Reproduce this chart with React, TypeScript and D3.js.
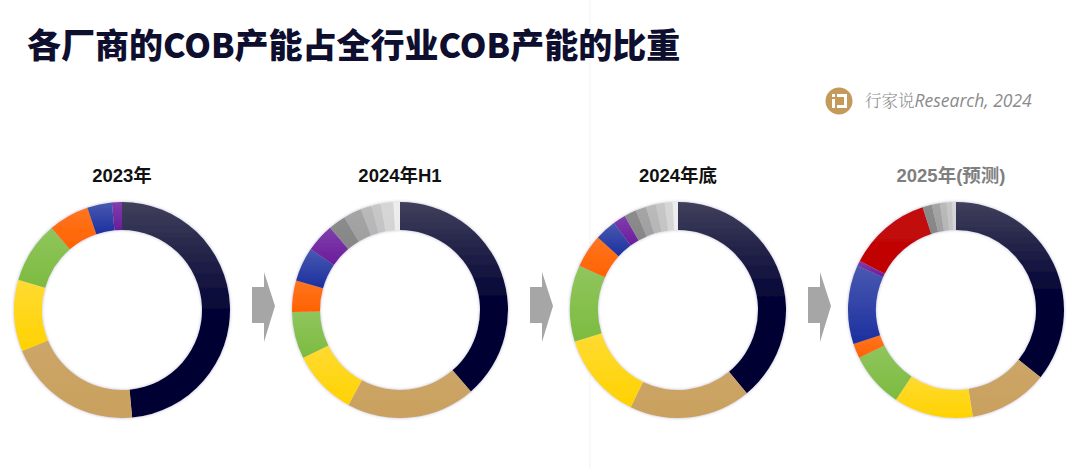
import React from "react";
import * as d3 from "d3";

// ---- data ----
const periods = ["2023年", "2024年H1", "2024年底", "2025年(预测)"];
const vendors = ["厂商1", "厂商2", "厂商3", "厂商4", "厂商5", "厂商6", "厂商7", "厂商8", "其他a", "其他b", "其他c", "其他d", "其他e", "其他f"];
const share2023 = [48.5, 20.3, 10.7, 9.2, 6.1, 3.7, 1.5, 0, 0, 0, 0, 0, 0, 0];
const share2024H1 = [38.6, 19.3, 9.8, 7.0, 4.7, 5.1, 4.3, 0, 2.6, 2.7, 1.6, 1.4, 1.9, 1.0];
const share2024End = [39.0, 18.2, 13.1, 11.4, 5.0, 3.2, 1.9, 0, 1.8, 1.6, 1.5, 1.3, 1.2, 0.8];
const share2025F = [35.7, 11.8, 11.9, 8.3, 2.2, 11.8, 0.8, 12.5, 1.4, 1.2, 1.0, 0.8, 0.6, 0];
const vendorColors = ["#000033", "#c9a05e", "#ffd200", "#7cbb40", "#ff6200", "#1b2f9e", "#6a1c9c", "#c00000", "#868686", "#a0a0a0", "#b6b6b6", "#c4c4c4", "#d4d4d4", "#ececec"];
const vendorTopLight = [0, 0.06, 0.2, 0.15, 0.12, 0.2, 0.15, 0.05, 0.05, 0.05, 0.05, 0.05, 0.05, 0.05];
const seriesList = [share2023, share2024H1, share2024End, share2025F];
const labelColors = ["#111111", "#111111", "#111111", "#7f7f7f"];

const W = 1080;
const H = 469;

export default function App() {
  const x = d3.scalePoint<string>().domain(periods).range([122, 956]);
  const cy = 310;
  const outerR = 108;
  const innerR = 80;
  const pie = d3
    .pie<number>()
    .sort(null)
    .value((d) => d)
    .startAngle(0)
    .endAngle(2 * Math.PI);
  const arc = d3.arc<d3.PieArcDatum<number>>().innerRadius(innerR).outerRadius(outerR);

  const light = (c: string, k: number) => d3.interpolateRgb(c, "#ffffff")(k);

  return (
    <svg
      width={W}
      height={H}
      viewBox={`0 0 ${W} ${H}`}
      style={{ position: "absolute", left: 0, top: 0, background: "#ffffff" }}
    >
      <defs>
        {vendorColors.map((c, i) => (
          <linearGradient key={i} id={`g${i}`} x1="0" y1="0" x2="0" y2="1">
            <stop offset="0%" stopColor={i === 0 ? "#40405c" : light(c, vendorTopLight[i])} />
            <stop offset={i === 0 ? "55%" : "100%"} stopColor={c} />
            {i === 0 && <stop offset="100%" stopColor={c} />}
          </linearGradient>
        ))}
        <filter id="glow" x="-10%" y="-10%" width="120%" height="120%">
          <feGaussianBlur in="SourceAlpha" stdDeviation="1.8" result="b" />
          <feFlood floodColor="#5c5c90" floodOpacity="0.45" />
          <feComposite in2="b" operator="in" result="s" />
          <feMerge>
            <feMergeNode in="s" />
            <feMergeNode in="SourceGraphic" />
          </feMerge>
        </filter>
      </defs>

      {/* faint background line */}
      <line x1={590} y1={0} x2={590} y2={H} stroke="#f3f3f3" strokeWidth={1} />

      {/* title */}
      <text
        x={27}
        y={58}
        fontFamily="'Noto Sans CJK SC', sans-serif"
        fontWeight={900}
        fontSize={34}
        fill="#0e0e2e"
      >
        各厂商的COB产能占全行业COB产能的比重
      </text>

      {/* source / logo */}
      <g>
        <circle cx={839} cy={101} r={13.5} fill="#c49a5a" />
        <path
          d="M832 94 h3 v3 h-3 z M832 99 h3 v9 h-3 z M837 94 h10 v14 h-10 v-3 h7 v-8 h-7 z"
          fill="#ffffff"
        />
        <text x={865} y={107} fontSize={16.5} fill="#8a8a8a">
          <tspan fontFamily="'Noto Serif CJK SC', 'Noto Sans CJK SC', serif" fontWeight={300}>
            行家说
          </tspan>
          <tspan fontFamily="'Open Sans', sans-serif" fontStyle="italic" fontSize={17.5}>
            Research, 2024
          </tspan>
        </text>
      </g>

      {/* arrows between donuts */}
      {periods.slice(0, -1).map((p, i) => {
        const mx = ((x(p) as number) + outerR + (x(periods[i + 1]) as number) - outerR) / 2;
        return (
          <path
            key={p}
            d={`M${mx - 9} 287 H${mx + 3} V272 L${mx + 14} 306 L${mx + 3} 342 V323 H${mx - 9} Z`}
            fill="#a6a6a6"
          />
        );
      })}

      {/* donuts */}
      {seriesList.map((vals, si) => {
        const cx = x(periods[si]) as number;
        const arcs = pie(vals);
        return (
          <g key={si}>
            <text
              x={si === 3 ? cx - 5 : cx}
              y={182}
              textAnchor="middle"
              fontFamily="'Liberation Sans', 'Noto Sans CJK SC', sans-serif"
              fontWeight={700}
              fontSize={18.5}
              fill={labelColors[si]}
            >
              {periods[si]}
            </text>
            <g transform={`translate(${cx},${cy})`} filter="url(#glow)">
              {arcs.map((a, i) =>
                a.value > 0 ? (
                  <path key={vendors[i]} d={arc(a) as string} fill={`url(#g${i})`} />
                ) : null
              )}
            </g>
          </g>
        );
      })}
    </svg>
  );
}
